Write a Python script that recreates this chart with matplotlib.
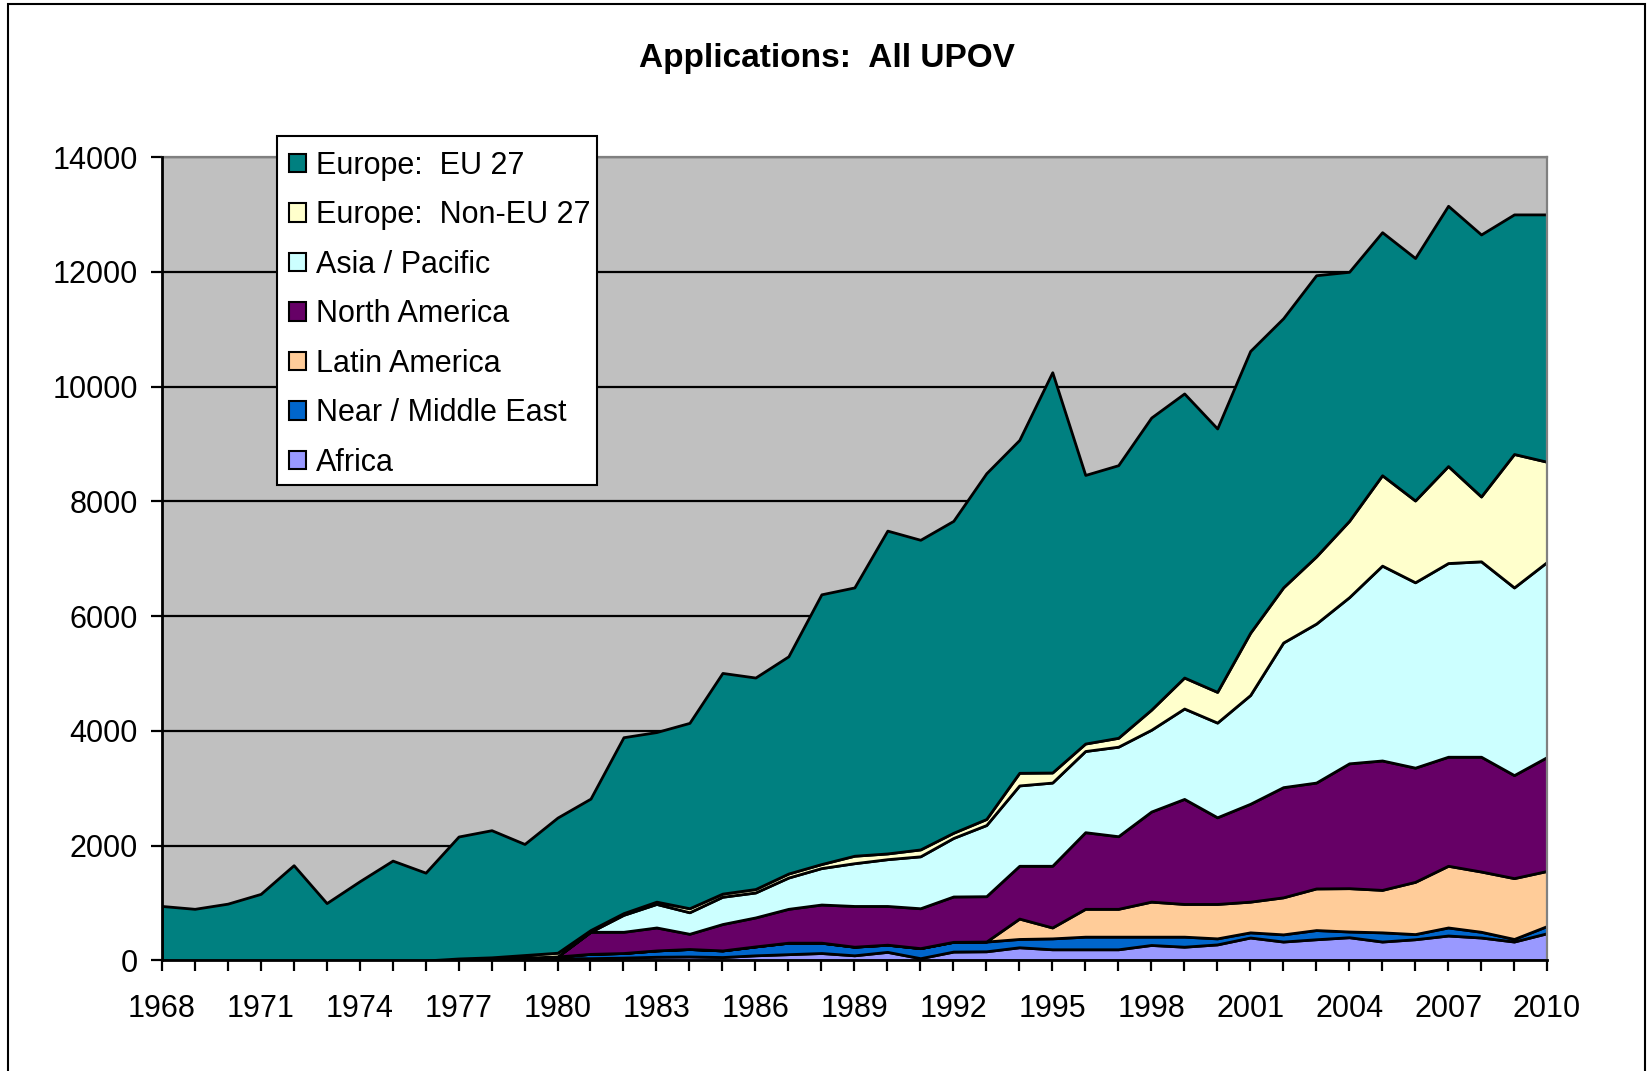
import matplotlib
matplotlib.use("Agg")
import matplotlib.pyplot as plt
from matplotlib.patches import Rectangle, Patch
import numpy as np

plt.rcParams['font.family'] = ['Liberation Sans', 'DejaVu Sans']

years = list(range(1968, 2011))

africa = [0, 0, 0, 0, 0, 0, 0, 0, 0,
          15, 20, 30, 40, 40, 50, 65, 70, 60, 90, 110, 130, 90, 150, 40, 155, 160,
          230, 195, 195, 195, 270, 240, 280, 400, 330, 370, 405, 330, 370, 435, 400, 330, 475]
near_middle_east = [0, 0, 0, 0, 0, 0, 0, 0, 0,
                    0, 0, 20, 30, 75, 80, 110, 130, 115, 155, 200, 180, 150, 125, 175, 170, 170,
                    145, 190, 220, 220, 145, 175, 105, 90, 125, 160, 100, 160, 90, 140, 100, 45, 125]
latin_america = [0, 0, 0, 0, 0, 0, 0, 0, 0,
                 0, 0, 0, 0, 0, 0, 0, 0, 0, 0, 0, 0, 0, 0, 0, 0, 0,
                 355, 190, 485, 485, 610, 570, 600, 535, 645, 725, 755, 740, 910, 1075, 1050, 1060, 960]
north_america = [0, 0, 0, 0, 0, 0, 0, 0, 0,
                 0, 0, 0, 0, 385, 370, 400, 265, 460, 505, 590, 665, 710, 675, 695, 790, 790,
                 920, 1075, 1335, 1265, 1570, 1830, 1510, 1705, 1920, 1845, 2175, 2255, 1990, 1900, 2000, 1795, 1985]
asia_pacific = [0, 0, 0, 0, 0, 0, 0, 0, 0,
                0, 0, 0, 0, 0, 295, 410, 375, 475, 435, 545, 635, 745, 815, 905, 1020, 1240,
                1400, 1450, 1415, 1560, 1425, 1575, 1650, 1895, 2520, 2770, 2895, 3395, 3230, 3375, 3405, 3270, 3400]
europe_non_eu = [0, 0, 0, 0, 0, 0, 0, 0, 0,
                 20, 35, 45, 65, 30, 30, 40, 70, 55, 60, 70, 70, 130, 100, 120, 90, 105,
                 220, 175, 130, 155, 350, 540, 535, 1085, 960, 1170, 1330, 1575, 1425, 1690, 1130, 2325, 1745]
europe_eu27 = [950, 900, 990, 1160, 1660, 1000, 1380, 1740, 1530,
               2125, 2215, 1935, 2355, 2290, 3065, 2955, 3230, 3845, 3685, 3785, 4700, 4675, 5625, 5395, 5435, 6025,
               5800, 6975, 4680, 4750, 5090, 4950, 4590, 4910, 4690, 4900, 4340, 4235, 4225, 4535, 4565, 4175, 4310]

series_labels = ["Africa", "Near / Middle East", "Latin America", "North America",
                 "Asia / Pacific", "Europe:  Non-EU 27", "Europe:  EU 27"]
series_colors = ["#9999FF", "#0066CC", "#FFCC99", "#660066", "#CCFFFF", "#FFFFCC", "#008080"]
x_tick_labels = [str(y) for y in range(1968, 2011, 3)]
y_ticks = list(range(0, 14001, 2000))

fig = plt.figure(figsize=(16.5, 10.71), dpi=100)
ax = fig.add_axes([0.098, 0.1032, 0.8396, 0.7502])
ax.set_facecolor("#C0C0C0")

for yt in y_ticks[1:]:
    ax.axhline(yt, color="black", lw=1.6, zorder=1)

data = [africa, near_middle_east, latin_america, north_america, asia_pacific, europe_non_eu, europe_eu27]
polys = ax.stackplot(years, *data, colors=series_colors, edgecolor="black", linewidth=2.0, zorder=2)

ax.set_xlim(1968, 2010)
ax.set_ylim(0, 14000)
ax.set_yticks(y_ticks)
ax.set_yticklabels([str(v) for v in y_ticks])
ax.set_xticks(years)
ax.set_xticklabels([str(y) if str(y) in x_tick_labels else "" for y in years])
ax.tick_params(axis="both", direction="out", length=8, width=1.6, labelsize=22, color="black")
ax.tick_params(axis="y", pad=9)
ax.tick_params(axis="x", pad=16)

for side in ["left", "bottom"]:
    ax.spines[side].set_color("black")
    ax.spines[side].set_linewidth(2.0)
    ax.spines[side].set_zorder(5)
for side in ["top", "right"]:
    ax.spines[side].set_color("#808080")
    ax.spines[side].set_linewidth(1.6)

fig.text(0.501, 0.9457, "Applications:  All UPOV", ha="center", va="center",
         fontsize=24, fontweight="bold")

# legend box (drawn separately for exact padding)
fig.patches.append(Rectangle((0.1679, 0.5472), 0.1939, 0.3259, transform=fig.transFigure,
                             facecolor="white", edgecolor="black", linewidth=1.5, zorder=9))

handles = [Patch(facecolor=c, edgecolor="black", linewidth=1.5) for c in series_colors][::-1]
labels = series_labels[::-1]
leg = fig.legend(handles, labels, loc="upper left", bbox_to_anchor=(0.1752, 0.8594),
                 bbox_transform=fig.transFigure, fontsize=22, frameon=False,
                 borderaxespad=0, handlelength=0.55, handleheight=0.55,
                 handletextpad=0.32, labelspacing=0.64, borderpad=0.0)
leg.set_zorder(10)

fig.patches.append(Rectangle((0.0048, -0.02), 0.9922, 1.0163, transform=fig.transFigure,
                             fill=False, edgecolor="black", linewidth=1.5))

fig.savefig("out.png", dpi=100)
